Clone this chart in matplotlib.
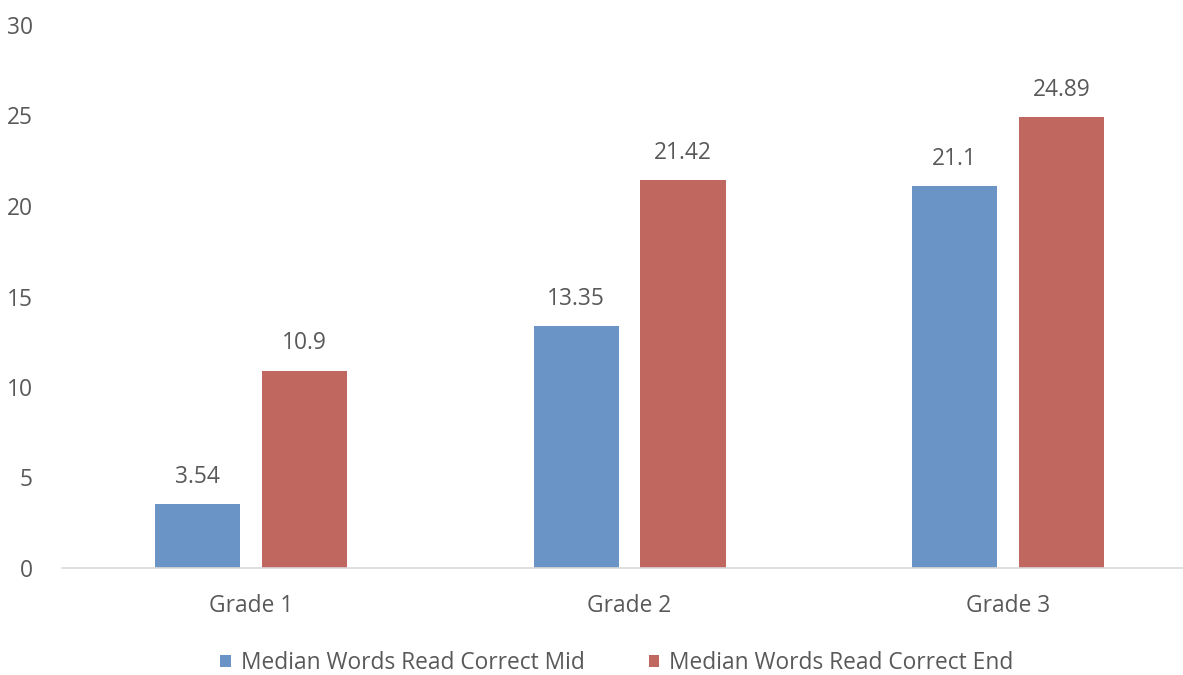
import matplotlib
matplotlib.use("Agg")
import matplotlib.pyplot as plt
import numpy as np

categories = ["Grade 1", "Grade 2", "Grade 3"]
mid_values = [3.54, 13.35, 21.1]
end_values = [10.9, 21.42, 24.89]
series_names = ["Median Words Read Correct Mid", "Median Words Read Correct End"]
y_ticks = [0, 5, 10, 15, 20, 25, 30]

BLUE = "#6A94C6"
RED = "#C0675F"
TEXT = "#595959"
FS = 16.4

plt.rcParams["font.family"] = ["Open Sans", "DejaVu Sans"]

fig = plt.figure(figsize=(11.83, 6.75), dpi=100)
ax = fig.add_axes([62 / 1183, 1 - 568 / 675, 1 - 62 / 1183, (568 - 25) / 675])

x = np.arange(len(categories))
width = 0.225
offset = 0.141
bars_mid = ax.bar(x - offset, mid_values, width, color=BLUE, label=series_names[0])
bars_end = ax.bar(x + offset, end_values, width, color=RED, label=series_names[1])

for bars, vals in ((bars_mid, mid_values), (bars_end, end_values)):
    for b, v in zip(bars, vals):
        ax.annotate(f"{v:g}", (b.get_x() + b.get_width() / 2, v),
                    xytext=(0, 11), textcoords="offset points",
                    ha="center", va="bottom", fontsize=FS, color=TEXT)

ax.set_xlim(-0.5, (1183 - 251) / 378.5)
ax.set_ylim(0, 30)
ax.set_yticks(y_ticks)
ax.set_xticks(x)
ax.set_xticklabels(categories)
ax.tick_params(axis="both", length=0, labelsize=FS, labelcolor=TEXT)
ax.tick_params(axis="y", pad=21)
ax.tick_params(axis="x", pad=19)

for side in ("top", "right", "left"):
    ax.spines[side].set_visible(False)
ax.spines["bottom"].set_color("#D9D9D9")
ax.spines["bottom"].set_linewidth(1.2)

fig.legend(loc="center", bbox_to_anchor=(617 / 1183, 1 - 663 / 675), ncol=2,
           frameon=False, fontsize=FS, labelcolor=TEXT, handlelength=0.45,
           handleheight=0.45, handletextpad=0.45, columnspacing=2.8)

fig.savefig("out.png", dpi=100)
